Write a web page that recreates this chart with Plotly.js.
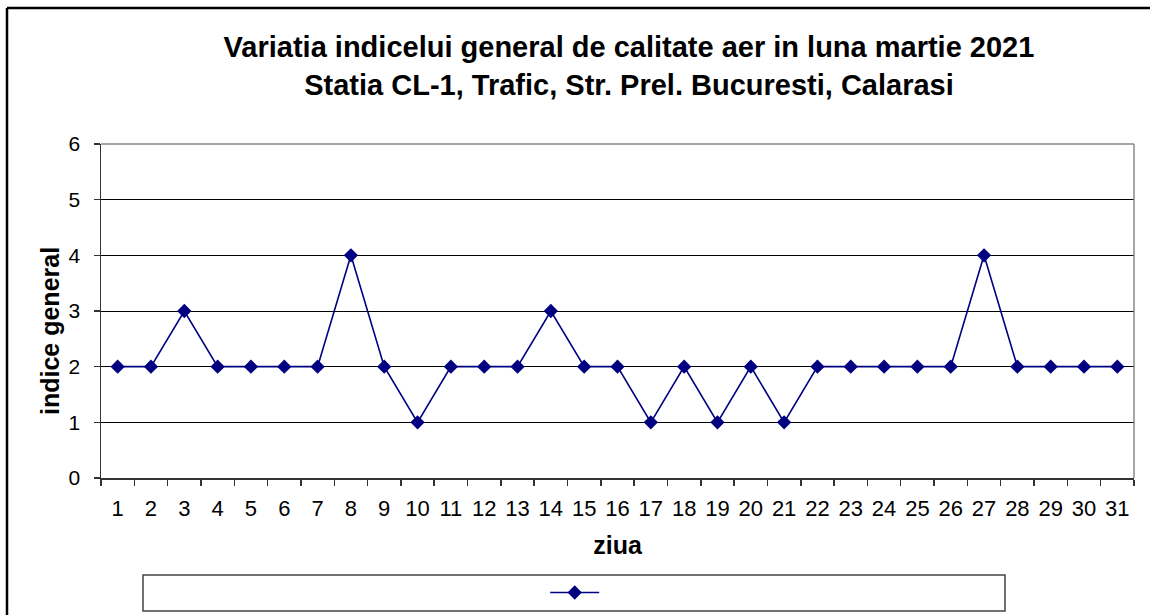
<!DOCTYPE html>
<html>
<head>
<meta charset="utf-8">
<script src="https://cdn.plot.ly/plotly-3.0.1.min.js"></script>
<style>html,body{margin:0;padding:0;background:#fff;}#chart{width:1150px;height:615px;}</style>
</head>
<body>
<div id="chart"></div>
<script>
const days = ['1','2','3','4','5','6','7','8','9','10','11','12','13','14','15','16','17','18','19','20','21','22','23','24','25','26','27','28','29','30','31'];
const indexValues = [2,2,3,2,2,2,2,4,2,1,2,2,2,3,2,2,1,2,1,2,1,2,2,2,2,2,4,2,2,2,2];
const yTicks = [0,1,2,3,4,5,6];

const FONT = 'Liberation Sans, Arial, sans-serif';

const trace = {
  x: days,
  y: indexValues,
  type: 'scatter',
  mode: 'lines+markers',
  name: ' ',
  line: {color: '#000080', width: 1.6},
  marker: {symbol: 'diamond', size: 11, color: '#000080'},
  showlegend: true
};

const layout = {
  width: 1150,
  height: 615,
  paper_bgcolor: '#ffffff',
  plot_bgcolor: '#ffffff',
  margin: {l: 101, r: 16, t: 144, b: 137, autoexpand: false},
  font: {family: FONT, color: '#000'},
  title: {
    text: '<b>Variatia indicelui general de calitate aer in luna martie 2021<br>Statia CL-1, Trafic, Str. Prel. Bucuresti, Calarasi</b>',
    font: {family: FONT, size: 29, color: '#000'},
    x: 629/1150, xanchor: 'center',
    y: 1 - 57/615, yanchor: 'top', yref: 'container'
  },
  xaxis: {
    type: 'category',
    automargin: false,
    range: [-0.5, days.length - 0.5],
    tickson: 'boundaries',
    tickangle: 0,
    ticks: 'outside', ticklen: 6, tickcolor: '#333', tickwidth: 1.5,
    ticklabelstandoff: 10,
    showline: true, linecolor: '#333', linewidth: 1.5,
    showgrid: false, zeroline: false,
    tickfont: {family: FONT, size: 22, color: '#000'},
    title: {text: '<b>ziua</b>', font: {family: FONT, size: 25, color: '#000'}, standoff: 16},
    fixedrange: true
  },
  yaxis: {
    automargin: false,
    range: [0, 6],
    tickvals: yTicks,
    ticktext: yTicks.map(String),
    ticks: 'outside', ticklen: 6, tickcolor: '#333', tickwidth: 1.5,
    ticklabelstandoff: 9,
    showline: true, linecolor: '#333', linewidth: 1.5,
    showgrid: true, gridcolor: '#000', gridwidth: 1,
    zeroline: false,
    tickfont: {family: FONT, size: 21, color: '#000'},
    fixedrange: true
  },
  annotations: [
    {
      text: '<b>indice general</b>',
      xref: 'paper', yref: 'paper',
      x: (50 - 101) / 1033, y: (478 - 331) / 334,
      xanchor: 'center', yanchor: 'middle',
      textangle: -90, showarrow: false,
      font: {family: FONT, size: 25, color: '#000'}
    }
  ],
  showlegend: true,
  legend: {
    x: 0.43, xanchor: 'left',
    y: -0.344, yanchor: 'middle',
    bgcolor: 'rgba(0,0,0,0)',
    borderwidth: 0,
    font: {family: FONT, size: 14},
    itemwidth: 49
  },
  shapes: [
    {type: 'line', xref: 'paper', yref: 'paper', x0: 1, x1: 1, y0: 0, y1: 1, line: {color: '#888', width: 1.5}},
    {type: 'line', xref: 'paper', yref: 'paper', x0: 0, x1: 1, y0: 1, y1: 1, line: {color: '#888', width: 1.5}},
    {type: 'rect', xref: 'paper', yref: 'paper', x0: 42/1033, x1: 904/1033, y0: -97/334, y1: -133/334, line: {color: '#444', width: 1.5}, fillcolor: 'rgba(0,0,0,0)'},
    {type: 'line', xref: 'paper', yref: 'paper', x0: -94/1033, x1: 1.2, y0: 470/334, y1: 470/334, line: {color: '#000', width: 2.5}},
    {type: 'line', xref: 'paper', yref: 'paper', x0: -94/1033, x1: -94/1033, y0: 470/334, y1: -1, line: {color: '#000', width: 2.5}}
  ]
};

Plotly.newPlot('chart', [trace], layout, {displayModeBar: false, staticPlot: true});
</script>
</body>
</html>
